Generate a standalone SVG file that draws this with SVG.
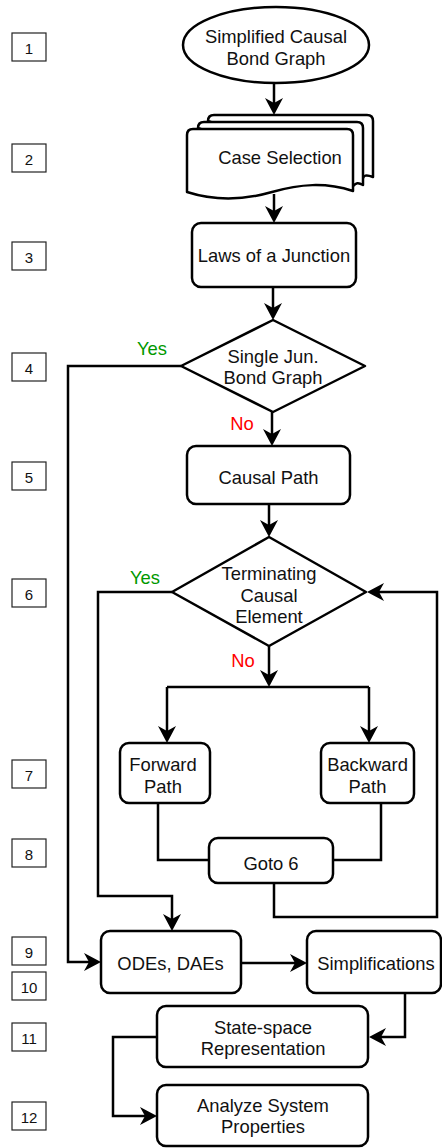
<svg xmlns="http://www.w3.org/2000/svg" width="442" height="1148" viewBox="0 0 442 1148">
<defs>
<marker id="arr" markerUnits="userSpaceOnUse" markerWidth="18" markerHeight="20" viewBox="0 0 18 20" refX="5" refY="9.5" orient="auto">
<path d="M0,0.5 L17,9.5 L0,18.5 L5,9.5 Z" fill="#000"/>
</marker>
</defs>
<style>
.s{fill:#fff;stroke:#000;stroke-width:2.5;stroke-linejoin:round}
.t{font-family:"Liberation Sans",Arial,Helvetica,sans-serif;font-size:18.4px;fill:#111;text-anchor:middle}
.n{font-family:"Liberation Sans",Arial,Helvetica,sans-serif;font-size:15px;fill:#111;text-anchor:middle}
.nb{fill:#fff;stroke:#222;stroke-width:1.2}
.c{fill:none;stroke:#000;stroke-width:2.5;stroke-linejoin:miter}
.a{marker-end:url(#arr)}
.yes{fill:#009900}
.no{fill:#ff0000}
</style>
<rect width="442" height="1148" fill="#fff"/>
<g id="numbers">
<rect class="nb" x="12" y="33" width="34" height="28"/><text class="n" x="29" y="54">1</text>
<rect class="nb" x="12" y="144" width="34" height="28"/><text class="n" x="29" y="165">2</text>
<rect class="nb" x="12" y="242" width="34" height="28"/><text class="n" x="29" y="263">3</text>
<rect class="nb" x="12" y="353" width="34" height="28"/><text class="n" x="29" y="374">4</text>
<rect class="nb" x="12" y="462" width="34" height="28"/><text class="n" x="29" y="483">5</text>
<rect class="nb" x="12" y="579" width="34" height="28"/><text class="n" x="29" y="600">6</text>
<rect class="nb" x="12" y="760" width="34" height="28"/><text class="n" x="29" y="781">7</text>
<rect class="nb" x="12" y="839" width="34" height="28"/><text class="n" x="29" y="860">8</text>
<rect class="nb" x="12" y="937" width="34" height="28"/><text class="n" x="29" y="958">9</text>
<rect class="nb" x="12" y="972" width="34" height="28"/><text class="n" x="29" y="993">10</text>
<rect class="nb" x="12" y="1023" width="34" height="28"/><text class="n" x="29" y="1044">11</text>
<rect class="nb" x="12" y="1102" width="34" height="28"/><text class="n" x="29" y="1123">12</text>
</g>
<g id="connectors">
<path class="c a" d="M274,83 V103"/>
<path class="c a" d="M274,194 V211"/>
<path class="c a" d="M273,287 V308"/>
<path class="c a" d="M181,366 H68 V962 H89"/>
<path class="c a" d="M272,412 V434"/>
<path class="c a" d="M269,504 V525"/>
<path class="c a" d="M172,592 H98 V896 H172 V919"/>
<path class="c a" d="M269,646 V675"/>
<path class="c" d="M167,687 H369"/>
<path class="c a" d="M167,687 V731"/>
<path class="c a" d="M369,687 V731"/>
<path class="c" d="M158,803 V860 H209"/>
<path class="c" d="M381,803 V860 H333"/>
<path class="c a" d="M274,883 V917 H437 V592 H379"/>
<path class="c a" d="M241,963 H295"/>
<path class="c a" d="M405,993 V1037 H381"/>
<path class="c a" d="M157,1037 H113 V1116 H145"/>
</g>
<g id="n1">
<ellipse class="s" cx="276" cy="45" rx="93" ry="38"/>
<text class="t" x="276" y="43">Simplified Causal</text>
<text class="t" x="276" y="65">Bond Graph</text>
</g>
<g id="n2">
<path class="s" d="M208,121 Q208,115 214,115 H367 Q373,115 373,121 V177 C365,174 364,176 363,178 Z"/>
<path class="s" d="M198,128 Q198,122 204,122 H357 Q363,122 363,128 V185 C358,182 356,183 353,186 Z"/>
<path class="s" d="M187,135 Q187,129 193,129 H347 Q353,129 353,135 V191 C325,182 300,184 272,192 C244,200 215,201 187,192 Z"/>
<text class="t" x="280" y="164">Case Selection</text>
</g>
<g id="n3">
<rect class="s" x="192" y="223" width="164" height="64" rx="9"/>
<text class="t" x="274" y="261.5">Laws of a Junction</text>
</g>
<g id="n4">
<path class="s" d="M273,320 L365,366 L273,412 L181,366 Z"/>
<text class="t" x="273" y="363">Single Jun.</text>
<text class="t" x="273" y="384">Bond Graph</text>
</g>
<text class="t yes" x="152" y="355">Yes</text>
<text class="t no" x="242" y="430">No</text>
<g id="n5">
<rect class="s" x="187" y="446" width="163" height="58" rx="9"/>
<text class="t" x="268.5" y="484">Causal Path</text>
</g>
<g id="n6">
<path class="s" d="M269,537 L366,592 L269,646 L172,592 Z"/>
<text class="t" x="269" y="580">Terminating</text>
<text class="t" x="269" y="601.5">Causal</text>
<text class="t" x="269" y="623">Element</text>
</g>
<text class="t yes" x="145" y="584">Yes</text>
<text class="t no" x="243" y="667">No</text>
<g id="n7a">
<rect class="s" x="120" y="743" width="90" height="60" rx="9"/>
<text class="t" x="163" y="771">Forward</text>
<text class="t" x="163" y="793">Path</text>
</g>
<g id="n7b">
<rect class="s" x="321" y="743" width="93" height="60" rx="9"/>
<text class="t" x="367.5" y="771">Backward</text>
<text class="t" x="367.5" y="793">Path</text>
</g>
<g id="n8">
<rect class="s" x="209" y="838" width="124" height="45" rx="9"/>
<text class="t" x="271" y="870">Goto 6</text>
</g>
<g id="n9">
<rect class="s" x="101" y="931" width="140" height="62" rx="9"/>
<text class="t" x="170.5" y="970">ODEs, DAEs</text>
</g>
<g id="n10">
<rect class="s" x="307" y="931" width="134" height="62" rx="9"/>
<text class="t" x="376" y="970">Simplifications</text>
</g>
<g id="n11">
<rect class="s" x="157" y="1006" width="211" height="61" rx="9"/>
<text class="t" x="263" y="1034">State-space</text>
<text class="t" x="263" y="1055">Representation</text>
</g>
<g id="n12">
<rect class="s" x="157" y="1085" width="211" height="61" rx="9"/>
<text class="t" x="263" y="1112">Analyze System</text>
<text class="t" x="263" y="1133">Properties</text>
</g>
</svg>
